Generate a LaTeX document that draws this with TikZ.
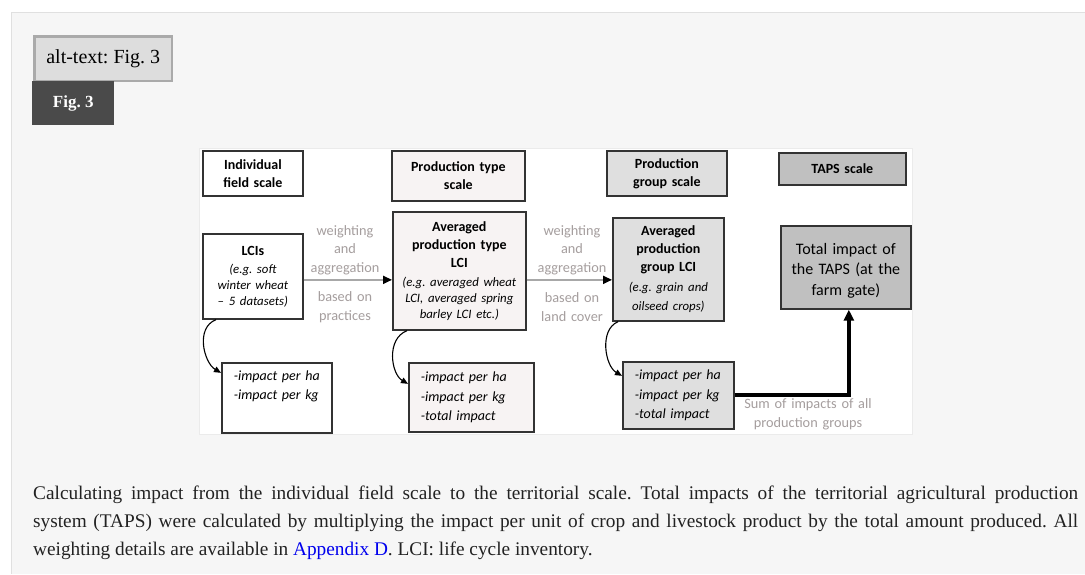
\documentclass[tikz,border=0pt]{standalone}
\usepackage{fontspec}
\setmainfont{Liberation Serif}
\newfontfamily\carl{Carlito}
\usetikzlibrary{arrows.meta}
\definecolor{panel}{HTML}{F6F6F6}
\definecolor{panelline}{HTML}{E0E0E0}
\definecolor{altfill}{HTML}{DDDDDD}
\definecolor{altline}{HTML}{AAAAAA}
\definecolor{figfill}{HTML}{4A4A4A}
\definecolor{boxline}{HTML}{333333}
\definecolor{pinkfill}{HTML}{F7F3F3}
\definecolor{lgray}{HTML}{DFDFDF}
\definecolor{mgray}{HTML}{C0C0C0}
\definecolor{labelgray}{HTML}{A59E9E}
\definecolor{arrowgray}{HTML}{A8A8A8}
\definecolor{linkblue}{HTML}{0000EE}
\definecolor{imgline}{HTML}{EBEBEB}
\definecolor{captext}{HTML}{222222}
\frenchspacing
\begin{document}
\begin{tikzpicture}[x=1pt,y=-1pt,
  box/.style={draw=boxline, line width=1.7pt, inner sep=0pt, anchor=north west, align=center,
    font=\carl\fontsize{14}{16}\selectfont},
  hdr/.style={box, font=\carl\bfseries\fontsize{14}{18}\selectfont},
  impbox/.style={draw=boxline, line width=1.7pt, inner xsep=12pt, inner ysep=0pt, anchor=north west,
    align=left, font=\carl\itshape\fontsize{14}{19.5}\selectfont},
  glabel/.style={text=labelgray, align=center, text width=90pt, inner sep=0pt,
    font=\carl\fontsize{14.3}{18.5}\selectfont},
  garrow/.style={draw=arrowgray, line width=1.8pt, -{Triangle[length=9pt,width=8pt,color=black]}},
  carrow/.style={draw=black, line width=1.1pt, -{Triangle[length=7pt,width=6pt]}},
  tarrow/.style={draw=black, line width=4pt, -{Triangle[length=11pt,width=10pt]}},
]
\useasboundingbox (0,0) rectangle (1085,574);
\fill[white] (0,0) rectangle (1085,574);
\fill[panel] (11,12) rectangle (1085,574);
\draw[panelline, line width=1pt] (11.5,574) -- (11.5,12.5) -- (1085,12.5);

% header boxes
\node[draw=altline, line width=2.5pt, fill=altfill, anchor=north west, minimum width=137.5,
  minimum height=44.5, inner sep=0pt, font=\fontsize{20}{24}\selectfont] (alt) at (33.25,35.25) {alt-text: Fig. 3};
\node[fill=figfill, anchor=north west, minimum width=82, minimum height=44, inner sep=0pt,
  text=white, font=\bfseries\fontsize{17}{20}\selectfont] (fig) at (32,81) {Fig. 3};

% image area
\draw[imgline, fill=white, line width=0.8pt] (199,148) rectangle (912,434);

% scale headers
\node[hdr, fill=white, minimum width=100, minimum height=45, text width=100] (h1) at (202,150) {Individual\\field scale};
\node[hdr, fill=pinkfill, minimum width=133, minimum height=50, text width=133] (h2) at (391,150) {Production type\\scale};
\node[hdr, fill=lgray, minimum width=120, minimum height=45, text width=120] (h3) at (606,150) {Production\\group scale};
\node[hdr, fill=mgray, minimum width=127, minimum height=32, text width=127] (h4) at (778,152) {TAPS scale};

% main boxes
\node[box, fill=white, minimum width=100, minimum height=85, text width=100] (lci) at (202,233)
  {\textbf{LCIs}\\[2pt]{\itshape\fontsize{12.8}{16}\selectfont (e.g. soft\\winter wheat\\– 5 datasets)}};
\node[box, fill=pinkfill, minimum width=133, minimum height=118, text width=133] (ptype) at (392,211)
  {\textbf{Averaged}\\[2pt]\textbf{production type}\\[2pt]\textbf{LCI}\\[3pt]{\itshape\fontsize{12.8}{16}\selectfont (e.g. averaged wheat\\LCI, averaged spring\\barley LCI etc.)}};
\node[box, fill=lgray, minimum width=111, minimum height=103, text width=111] (group) at (612,217)
  {\textbf{Averaged}\\[2pt]\textbf{production}\\[2pt]\textbf{group LCI}\\[4pt]{\itshape\fontsize{12.8}{16}\selectfont (e.g. grain and\\[3pt]oilseed crops)}};
\node[box, fill=mgray, minimum width=130, minimum height=83, text width=130,
  font=\carl\fontsize{16}{20.5}\selectfont] (total) at (780,225)
  {\rule{0pt}{17.5pt}Total impact of\\the TAPS (at the\\farm gate)};

% impact boxes
\node[impbox, fill=white, minimum height=70, text width=86] (imp1) at (221,362)
  {-impact per ha\\-impact per kg\\\strut};
\node[impbox, fill=pinkfill, minimum height=69, text width=101] (imp2) at (408,362)
  {-impact per ha\\-impact per kg\\-total impact};
\node[impbox, fill=lgray, minimum height=67, text width=87] (imp3) at (622,361)
  {-impact per ha\\-impact per kg\\-total impact};

% horizontal connectors and labels
\draw[garrow] ([yshift=-3.5pt]lci.east) -- ([yshift=-3.5pt]lci.east -| ptype.west);
\draw[garrow] ([yshift=-9pt]ptype.east) -- ([yshift=-9pt]ptype.east -| group.west);
\node[glabel] (w1) at (345,250) {weighting\\and\\aggregation};
\node[glabel] (b1) at (345,307) {based on\\practices};
\node[glabel] (w2) at (572,250) {weighting\\and\\aggregation};
\node[glabel] (b2) at (572,307) {based on\\land cover};

% curved connectors
\draw[carrow] ([xshift=14pt]lci.south west) .. controls +(-21,8) and +(-17,-10) .. ([yshift=25pt]imp1.west);
\draw[carrow] ([xshift=15pt]ptype.south west) .. controls +(-21,8) and +(-17,-10) .. ([yshift=13.5pt]imp2.west);
\draw[carrow] ([xshift=6pt]group.south west) .. controls +(-19,8) and +(-17,-10) .. ([yshift=19.5pt]imp3.west);

% sum arrow
\draw[tarrow] (imp3.east) -| ([xshift=3pt]total.south);
\node[glabel, text width=140pt] (sum) at (808,414.5) {Sum of impacts of all\\production groups};

% caption
\node[anchor=north west, text width=1045pt, align=justify, inner sep=0pt, text=captext,
  font=\fontsize{19.3}{28}\selectfont] (cap) at (33,486)
  {Calculating impact from the individual field scale to the territorial scale. Total impacts of the territorial agricultural production\linebreak
  system (TAPS) were calculated by multiplying the impact per unit of crop and livestock product by the total amount produced. All\linebreak
  weighting details are available in \textcolor{linkblue}{Appendix D}. LCI: life cycle inventory.};
\end{tikzpicture}
\end{document}
